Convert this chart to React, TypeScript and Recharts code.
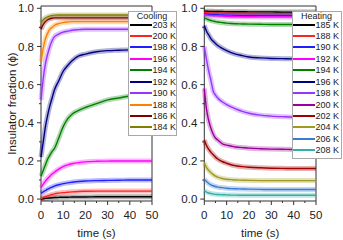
import { LineChart, Line, XAxis, YAxis, Legend, ReferenceArea } from 'recharts'

// time grid (s) and fraction values
const times = [0, 1, 2, 3, 4, 5, 6, 8, 10, 12, 14, 17, 20, 25, 30, 35, 40, 45, 50]

// cooling
const cool203 = [0, 0.002, 0.004, 0.005, 0.006, 0.007, 0.008, 0.009, 0.01, 0.01, 0.011, 0.011, 0.011, 0.012, 0.012, 0.012, 0.012, 0.012, 0.012]
const cool200 = [0.003, 0.008, 0.013, 0.017, 0.021, 0.024, 0.027, 0.031, 0.034, 0.036, 0.038, 0.04, 0.041, 0.042, 0.042, 0.042, 0.042, 0.042, 0.042]
const cool198 = [0.03, 0.038, 0.045, 0.052, 0.058, 0.063, 0.068, 0.075, 0.081, 0.085, 0.088, 0.092, 0.095, 0.097, 0.098, 0.099, 0.1, 0.1, 0.1]
const cool196 = [0.06, 0.078, 0.094, 0.108, 0.12, 0.131, 0.141, 0.157, 0.17, 0.179, 0.185, 0.191, 0.195, 0.198, 0.199, 0.2, 0.2, 0.2, 0.2]
const cool194 = [0.12, 0.15, 0.18, 0.21, 0.23, 0.25, 0.265, 0.32, 0.38, 0.42, 0.445, 0.465, 0.48, 0.5, 0.52, 0.53, 0.54, 0.545, 0.55]
const cool192 = [0.22, 0.3, 0.38, 0.44, 0.49, 0.53, 0.57, 0.62, 0.67, 0.7, 0.725, 0.75, 0.76, 0.772, 0.778, 0.78, 0.782, 0.782, 0.783]
const cool190 = [0.52, 0.63, 0.71, 0.76, 0.8, 0.83, 0.85, 0.865, 0.875, 0.88, 0.885, 0.888, 0.89, 0.89, 0.89, 0.89, 0.89, 0.89, 0.89]
const cool188 = [0.72, 0.79, 0.84, 0.87, 0.89, 0.9, 0.91, 0.92, 0.925, 0.928, 0.93, 0.93, 0.93, 0.93, 0.93, 0.93, 0.93, 0.93, 0.93]
const cool186 = [0.89, 0.915, 0.93, 0.94, 0.945, 0.948, 0.95, 0.95, 0.95, 0.95, 0.95, 0.95, 0.95, 0.95, 0.95, 0.95, 0.95, 0.95, 0.95]
const cool184 = [0.925, 0.94, 0.95, 0.955, 0.96, 0.962, 0.964, 0.965, 0.965, 0.965, 0.965, 0.965, 0.965, 0.965, 0.965, 0.965, 0.965, 0.965, 0.965]

// heating
const heat185 = [0.985, 0.985, 0.984, 0.984, 0.984, 0.983, 0.983, 0.983, 0.982, 0.982, 0.982, 0.982, 0.981, 0.981, 0.981, 0.98, 0.98, 0.98, 0.98]
const heat188 = [0.977, 0.977, 0.976, 0.976, 0.975, 0.975, 0.975, 0.974, 0.974, 0.974, 0.973, 0.973, 0.973, 0.972, 0.972, 0.972, 0.972, 0.972, 0.972]
const heat190 = [0.971, 0.97, 0.969, 0.968, 0.967, 0.966, 0.966, 0.965, 0.964, 0.964, 0.963, 0.963, 0.962, 0.962, 0.962, 0.962, 0.962, 0.962, 0.962]
const heat192 = [0.965, 0.964, 0.963, 0.962, 0.961, 0.96, 0.96, 0.959, 0.958, 0.957, 0.957, 0.956, 0.956, 0.955, 0.955, 0.955, 0.955, 0.955, 0.955]
const heat194 = [0.95, 0.945, 0.94, 0.936, 0.933, 0.93, 0.928, 0.925, 0.922, 0.92, 0.919, 0.918, 0.917, 0.916, 0.915, 0.915, 0.915, 0.915, 0.915]
const heat196 = [0.91, 0.88, 0.86, 0.84, 0.827, 0.815, 0.805, 0.79, 0.778, 0.768, 0.76, 0.752, 0.745, 0.74, 0.737, 0.736, 0.735, 0.735, 0.735]
const heat198 = [0.8, 0.73, 0.67, 0.62, 0.565, 0.545, 0.53, 0.51, 0.495, 0.483, 0.473, 0.46, 0.45, 0.44, 0.435, 0.432, 0.43, 0.43, 0.43]
const heat200 = [0.58, 0.47, 0.41, 0.37, 0.34, 0.32, 0.31, 0.29, 0.283, 0.278, 0.273, 0.27, 0.267, 0.264, 0.262, 0.261, 0.26, 0.26, 0.26]
const heat202 = [0.31, 0.28, 0.26, 0.245, 0.232, 0.22, 0.21, 0.197, 0.188, 0.18, 0.175, 0.17, 0.167, 0.164, 0.162, 0.161, 0.16, 0.16, 0.16]
const heat204 = [0.19, 0.165, 0.15, 0.138, 0.128, 0.12, 0.115, 0.108, 0.104, 0.102, 0.1, 0.099, 0.098, 0.097, 0.097, 0.097, 0.097, 0.097, 0.097]
const heat206 = [0.105, 0.092, 0.082, 0.075, 0.07, 0.066, 0.063, 0.06, 0.057, 0.055, 0.054, 0.053, 0.052, 0.051, 0.05, 0.05, 0.05, 0.05, 0.05]
const heat208 = [0.045, 0.037, 0.032, 0.029, 0.027, 0.025, 0.024, 0.023, 0.022, 0.021, 0.021, 0.02, 0.02, 0.02, 0.02, 0.02, 0.02, 0.02, 0.02]

const coolLabels = ['203 K', '200 K', '198 K', '196 K', '194 K', '192 K', '190 K', '188 K', '186 K', '184 K']
const coolColors = ['#000000', '#ff2020', '#2020ff', '#ff00ff', '#008000', '#000080', '#9933ff', '#ff8000', '#800000', '#808000']
const coolSeries = [cool203, cool200, cool198, cool196, cool194, cool192, cool190, cool188, cool186, cool184]

const heatLabels = ['185 K', '188 K', '190 K', '192 K', '194 K', '196 K', '198 K', '200 K', '202 K', '204 K', '206 K', '208 K']
const heatColors = ['#000000', '#ff2020', '#2020ff', '#ff00ff', '#008000', '#000080', '#9933ff', '#990099', '#a00000', '#a09a20', '#3b7bd0', '#30b0a8']
const heatSeries = [heat185, heat188, heat190, heat192, heat194, heat196, heat198, heat200, heat202, heat204, heat206, heat208]

const yTicks = [0, 0.1, 0.2, 0.3, 0.4, 0.5, 0.6, 0.7, 0.8, 0.9, 1.0]
const xTicks = [0, 5, 10, 15, 20, 25, 30, 35, 40, 45, 50]

const FONT = "'Liberation Sans', Arial, sans-serif"
const AX = '#333'

function buildRows(series: number[][]) {
  return times.map((t, i) => {
    const row: any = { t }
    series.forEach((s, k) => { row['s' + k] = s[i] })
    return row
  })
}

const YTick = (props: any) => {
  const { x, y, payload } = props
  const major = Math.round(payload.value * 10) % 2 === 0
  return (
    <g>
      <line x1={x + (major ? 3 : 5)} x2={x + 7} y1={y} y2={y} stroke={AX} />
      {major && (
        <text x={x} y={y} dy="0.36em" textAnchor="end" fontSize={11.5} fontFamily={FONT} fill="#222">
          {payload.value.toFixed(1)}
        </text>
      )}
    </g>
  )
}

const XTick = (props: any) => {
  const { x, y, payload } = props
  const major = payload.value % 10 === 0
  return (
    <g>
      <line x1={x} x2={x} y1={y - 10} y2={y - (major ? 6 : 8)} stroke={AX} />
      {major && (
        <text x={x} y={y} dy="0.71em" textAnchor="middle" fontSize={11.5} fontFamily={FONT} fill="#222">
          {payload.value}
        </text>
      )}
    </g>
  )
}

function LegendBox({ title, labels, colors, pad }: { title: string; labels: string[]; colors: string[]; pad: number }) {
  return (
    <div style={{ border: '1px solid #a8a8a8', background: '#fff', fontFamily: FONT, fontSize: 9, color: '#222', paddingBottom: 1.5, whiteSpace: 'nowrap' }}>
      <div style={{ textAlign: 'center', lineHeight: '7px', height: 7, paddingTop: 0.5 }}>{title}</div>
      <div style={{ marginTop: -0.7 }}>
        {labels.map((l, i) => (
          <div key={l} style={{ display: 'flex', alignItems: 'center', height: 11.44, paddingLeft: pad }}>
            <span style={{ display: 'inline-block', flexShrink: 0, width: 22, height: 2, background: colors[i], marginRight: 1 }} />
            <span style={{ lineHeight: '8px', flexShrink: 0 }}>{l}</span>
          </div>
        ))}
      </div>
    </div>
  )
}

function Panel({ series, colors, labels, title, width, rightMargin, yLabel, pad, legendWidth }: any) {
  const rows = buildRows(series)
  return (
    <LineChart width={width} height={240} data={rows} margin={{ top: 6, right: rightMargin, bottom: 0, left: 0 }}>
      <XAxis
        dataKey="t"
        type="number"
        domain={[0, 50]}
        ticks={xTicks}
        interval={0}
        tickSize={4}
        tickMargin={6}
        tickLine={false}
        axisLine={false}
        tick={<XTick />}
        height={39}
        label={{ value: 'time (s)', position: 'insideBottom', offset: 3, fontSize: 11.5, fontFamily: FONT, fill: '#222' }}
      />
      <YAxis
        type="number"
        domain={[-0.01, 1.012]}
        allowDataOverflow
        ticks={yTicks}
        interval={0}
        tickSize={4}
        tickMargin={3}
        tickLine={false}
        axisLine={false}
        tick={<YTick />}
        width={yLabel ? 41 : 40.3}
        label={yLabel ? { value: 'Insulator fraction (ϕ)', angle: -90, position: 'insideLeft', offset: 12, fontSize: 11.5, fontFamily: FONT, fill: '#222', style: { textAnchor: 'middle' } } : undefined}
      />
      <ReferenceArea x1={0} x2={50} y1={-0.01} y2={1.012} fill="none" stroke={AX} strokeWidth={1} ifOverflow="visible" />
      {series.map((_: any, k: number) => (
        <Line key={'b' + k} type="monotone" dataKey={'s' + k} stroke={colors[k]} strokeOpacity={0.3} strokeWidth={5} dot={false} legendType="none" isAnimationActive={false} />
      ))}
      {series.map((_: any, k: number) => (
        <Line key={'l' + k} type="monotone" dataKey={'s' + k} stroke={colors[k]} strokeWidth={1.4} dot={false} isAnimationActive={false} />
      ))}
      <Legend
        layout="vertical"
        align="center"
        verticalAlign="middle"
        wrapperStyle={{ left: 127.5, top: 11, width: legendWidth, height: 'auto' }}
        content={() => <LegendBox title={title} labels={labels} colors={colors} pad={pad} />}
      />
    </LineChart>
  )
}

export default function App() {
  return (
    <div style={{ position: 'absolute', left: 0, top: 0, width: 343, height: 240, background: '#fff' }}>
      <div style={{ position: 'absolute', left: 0, top: 0 }}>
        <Panel series={coolSeries} colors={coolColors} labels={coolLabels} title="Cooling" width={180} rightMargin={28} yLabel pad={1} legendWidth={49} />
      </div>
      <div style={{ position: 'absolute', left: 164, top: 0 }}>
        <Panel series={heatSeries} colors={heatColors} labels={heatLabels} title="Heating" width={179} rightMargin={27} yLabel={false} pad={0} legendWidth={50} />
      </div>
    </div>
  )
}
